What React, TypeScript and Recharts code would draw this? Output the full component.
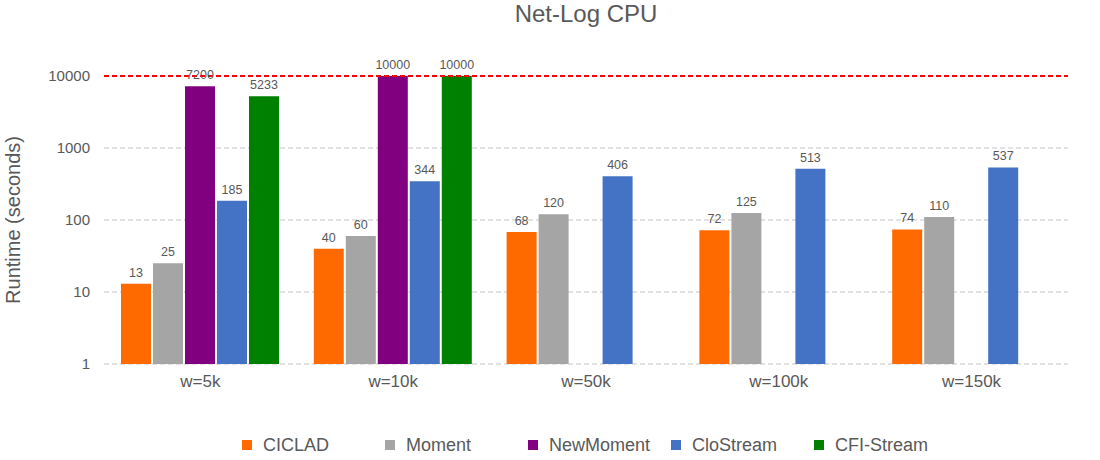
import React from 'react';
import {
  BarChart,
  Bar,
  XAxis,
  YAxis,
  CartesianGrid,
  ReferenceLine,
  LabelList,
  Legend,
  Customized,
} from 'recharts';

const categories = ['w=5k', 'w=10k', 'w=50k', 'w=100k', 'w=150k'];
const ciclad = [13, 40, 68, 72, 74];
const moment = [25, 60, 120, 125, 110];
const newMoment: (number | null)[] = [7200, 10000, null, null, null];
const cloStream = [185, 344, 406, 513, 537];
const cfiStream: (number | null)[] = [5233, 10000, null, null, null];
const yTicks = [1, 10, 100, 1000, 10000];
const limitValue = 10000;

const seriesNames = ['CICLAD', 'Moment', 'NewMoment', 'CloStream', 'CFI-Stream'];
const seriesColors = ['#FF6A00', '#A5A5A5', '#800080', '#4472C4', '#008000'];
const seriesValues = [ciclad, moment, newMoment, cloStream, cfiStream];

const data = categories.map((c, i) => {
  const row: Record<string, string | number | null> = { name: c };
  seriesNames.forEach((s, k) => {
    row[s] = seriesValues[k][i];
  });
  return row;
});

const TEXT = '#595959';

const LegendContent = () => (
  <div style={{ position: 'relative', width: 1100, height: 26 }}>
    {seriesNames.map((s, i) => (
      <div
        key={s}
        style={{
          position: 'absolute',
          left: 242 + i * 143,
          top: 0,
          height: 26,
          display: 'flex',
          alignItems: 'center',
          whiteSpace: 'nowrap',
        }}
      >
        <span
          style={{
            display: 'inline-block',
            width: 10,
            height: 10,
            background: seriesColors[i],
            marginRight: 11,
          }}
        />
        <span style={{ fontSize: 18, color: TEXT }}>{s}</span>
      </div>
    ))}
  </div>
);

const Title = () => (
  <text x={586} y={22} textAnchor="middle" fontSize={24} fill={TEXT}>
    Net-Log CPU
  </text>
);

const YLabel = (props: any) => {
  const vb = props.viewBox || { x: 10, y: 76, width: 94, height: 288 };
  const cx = vb.x + 3;
  const cy = vb.y + vb.height / 2;
  return (
    <text
      x={cx}
      y={cy}
      transform={`rotate(-90 ${cx} ${cy})`}
      textAnchor="middle"
      dominantBaseline="central"
      fontSize={20}
      fill={TEXT}
    >
      Runtime (seconds)
    </text>
  );
};

export default function App() {
  return (
    <div
      style={{
        position: 'absolute',
        left: 0,
        top: 0,
        width: 1100,
        height: 460,
        background: '#fff',
        fontFamily: '"Liberation Sans", Arial, sans-serif',
      }}
    >
      <BarChart
        width={1100}
        height={460}
        data={data}
        margin={{ top: 76, right: 32, bottom: 66, left: 10 }}
        barSize={30}
        barGap={2}
      >
        <CartesianGrid
          vertical={false}
          stroke="#D9D9D9"
          strokeWidth={1.5}
          strokeDasharray="5 3"
        />
        <XAxis
          dataKey="name"
          axisLine={false}
          tickLine={false}
          tickMargin={5}
          tick={{ fontSize: 17, fill: TEXT }}
          interval={0}
        />
        <YAxis
          scale="log"
          type="number"
          domain={[1, 10000]}
          ticks={yTicks}
          allowDataOverflow
          axisLine={false}
          tickLine={false}
          tickMargin={8}
          width={94}
          tick={{ fontSize: 15, fill: TEXT }}
          label={YLabel}
        />
        <Legend
          layout="horizontal"
          verticalAlign="middle"
          align="center"
          wrapperStyle={{ top: 432, left: 0, width: 1100, height: 26 }}
          content={LegendContent}
        />
        {seriesNames.map((s, i) => (
          <Bar key={s} dataKey={s} fill={seriesColors[i]} isAnimationActive={false}>
            <LabelList dataKey={s} position="top" offset={7} fontSize={12.5} fill={TEXT} />
          </Bar>
        ))}
        <ReferenceLine y={limitValue} stroke="#FF0000" strokeWidth={2} strokeDasharray="5 3" />
        <Customized component={<Title />} />
      </BarChart>
    </div>
  );
}
